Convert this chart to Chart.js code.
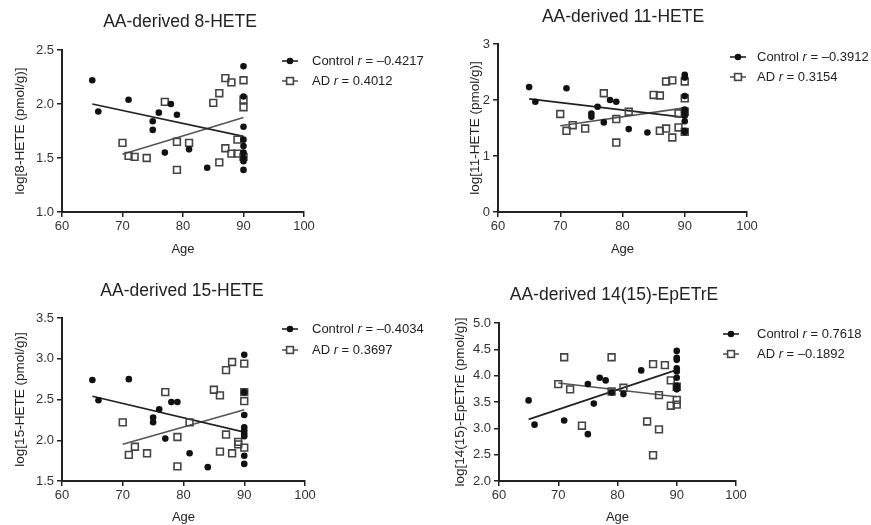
<!DOCTYPE html>
<html>
<head>
<meta charset="utf-8">
<script src="https://cdn.jsdelivr.net/npm/chart.js@4.4.0/dist/chart.umd.min.js"></script>
<style>
  body { margin: 0; background: #fff; width: 871px; height: 525px; position: relative; overflow: hidden; }
  canvas { position: absolute; }
</style>
</head>
<body>
<canvas id="c8" width="435" height="262" style="left:0;top:0"></canvas>
<canvas id="c11" width="436" height="262" style="left:435px;top:0"></canvas>
<canvas id="c15" width="435" height="263" style="left:0;top:262px"></canvas>
<canvas id="c14" width="436" height="263" style="left:435px;top:262px"></canvas>
<script>
// ages (years)
const controlAge = [65, 66, 71, 75, 75, 76, 77, 78, 79, 81, 84, 90, 90, 90, 90, 90, 90, 90, 90, 90];
const adAge = [70, 71, 72, 74, 77, 79, 79, 81, 85, 86, 86, 87, 87, 88, 88, 89, 89, 90, 90, 90, 90];
const ep14ControlAge = [65, 66, 71, 75, 75, 76, 77, 78, 79, 81, 84, 90, 90, 90, 90, 90, 90, 90, 90, 90];
const ep14AdAge = [70, 71, 72, 74, 79, 79, 81, 85, 86, 86, 87, 87, 88, 89, 89, 90, 90, 90];
const fitControlAge = [65, 90];
const fitAdAge = [70, 90];

// log values (pmol/g)
const hete8Control = [2.22, 1.93, 2.04, 1.84, 1.76, 1.92, 1.55, 2.00, 1.90, 1.58, 1.41, 2.35, 2.07, 1.79, 1.67, 1.61, 1.55, 1.50, 1.47, 1.39];
const hete8Ad = [1.64, 1.52, 1.51, 1.50, 2.02, 1.65, 1.39, 1.64, 2.01, 2.10, 1.46, 2.24, 1.59, 2.20, 1.54, 1.67, 1.54, 2.22, 2.04, 1.97, 1.51];
const hete11Control = [2.23, 1.97, 2.21, 1.76, 1.70, 1.88, 1.60, 2.00, 1.97, 1.48, 1.42, 2.45, 2.40, 2.07, 1.83, 1.78, 1.72, 1.62, 1.45, 1.43];
const hete11Ad = [1.75, 1.45, 1.55, 1.49, 2.12, 1.24, 1.66, 1.79, 2.09, 2.08, 1.45, 2.33, 1.49, 2.35, 1.33, 1.76, 1.51, 2.33, 2.03, 1.79, 1.43];
const hete15Control = [2.74, 2.49, 2.75, 2.28, 2.22, 2.38, 2.02, 2.47, 2.47, 1.84, 1.67, 3.05, 2.59, 2.31, 2.16, 2.12, 2.08, 2.05, 1.81, 1.71];
const hete15Ad = [2.22, 1.82, 1.92, 1.84, 2.59, 2.04, 1.68, 2.22, 2.62, 2.55, 1.86, 2.86, 2.07, 2.96, 1.84, 1.98, 1.95, 2.94, 2.59, 2.48, 1.91];
const ep14Control = [3.53, 3.07, 3.15, 2.89, 3.84, 3.47, 3.96, 3.91, 3.68, 3.65, 4.10, 4.47, 4.34, 4.30, 4.14, 4.08, 3.96, 3.81, 3.77, 3.74];
const ep14Ad = [3.84, 4.35, 3.74, 3.05, 4.35, 3.70, 3.77, 3.13, 4.22, 2.49, 2.98, 3.63, 4.20, 3.91, 3.43, 3.79, 3.54, 3.45];

// regression line ends
const hete8Fit = { control: [2.00, 1.70], ad: [1.535, 1.875] };
const hete11Fit = { control: [2.02, 1.69], ad: [1.54, 1.86] };
const hete15Fit = { control: [2.54, 2.10], ad: [1.95, 2.375] };
const ep14Fit = { control: [3.17, 4.11], ad: [3.86, 3.60] };

// r values
const hete8R = ['\u20130.4217', '0.4012'];
const hete11R = ['\u20130.3912', '0.3154'];
const hete15R = ['\u20130.4034', '0.3697'];
const ep14R = ['0.7618', '\u20130.1892'];

// ticks
const ageTicks = [60, 70, 80, 90, 100];
const hete8Ticks = [1.0, 1.5, 2.0, 2.5];
const hete11Ticks = [0, 1, 2, 3];
const hete15Ticks = [1.5, 2.0, 2.5, 3.0, 3.5];
const ep14Ticks = [2.0, 2.5, 3.0, 3.5, 4.0, 4.5, 5.0];

const FONT = '"Liberation Sans", Arial, Helvetica, sans-serif';
const INK = '#222';

function zip(xs, ys) {
  return xs.map((x, i) => ({ x: x, y: ys[i] }));
}

// title + legend (legend needs an italic r, so it is drawn here)
const panelText = {
  id: 'panelText',
  afterDraw(chart, args, o) {
    const ctx = chart.ctx;
    ctx.save();
    ctx.fillStyle = INK;
    ctx.textBaseline = 'middle';
    ctx.textAlign = 'center';
    ctx.font = '17.5px ' + FONT;
    ctx.fillText(o.title, o.titleX, o.titleY);

    ['Control', 'AD'].forEach((name, i) => {
      const y = o.legendY[i];
      const sx = o.symX;
      ctx.lineWidth = 1.6;
      ctx.strokeStyle = i === 0 ? '#222' : '#555';
      ctx.beginPath();
      ctx.moveTo(sx - 8, y);
      ctx.lineTo(sx + 8, y);
      ctx.stroke();
      if (i === 0) {
        ctx.fillStyle = '#111';
        ctx.beginPath();
        ctx.arc(sx, y, 3.3, 0, Math.PI * 2);
        ctx.fill();
      } else {
        ctx.fillStyle = '#fff';
        ctx.fillRect(sx - 3.4, y - 3.4, 6.8, 6.8);
        ctx.strokeStyle = '#444';
        ctx.strokeRect(sx - 3.4, y - 3.4, 6.8, 6.8);
      }
      ctx.fillStyle = INK;
      ctx.textAlign = 'left';
      let x = o.textX;
      ctx.font = '13px ' + FONT;
      ctx.fillText(name + ' ', x, y);
      x += ctx.measureText(name + ' ').width;
      ctx.font = 'italic 13px ' + FONT;
      ctx.fillText('r', x, y);
      x += ctx.measureText('r').width;
      ctx.font = '13px ' + FONT;
      ctx.fillText(' = ' + o.r[i], x, y);
    });
    ctx.restore();
  }
};

function panel(id, p) {
  new Chart(document.getElementById(id), {
    type: 'scatter',
    data: {
      datasets: [
        { data: zip(p.cAge, p.cVal), pointStyle: 'circle', pointRadius: 3.3, backgroundColor: '#111', borderColor: '#111', borderWidth: 0 },
        { data: zip(p.aAge, p.aVal), pointStyle: 'rect', pointRadius: 4.8, backgroundColor: 'rgba(0,0,0,0)', borderColor: '#444', borderWidth: 1.6 },
        { type: 'line', data: zip(fitControlAge, p.fit.control), borderColor: '#222', borderWidth: 1.6, pointRadius: 0, fill: false },
        { type: 'line', data: zip(fitAdAge, p.fit.ad), borderColor: '#555', borderWidth: 1.6, pointRadius: 0, fill: false }
      ]
    },
    options: {
      responsive: false,
      animation: false,
      devicePixelRatio: 1,
      layout: { padding: { left: 0, top: p.top, right: p.right, bottom: 0 } },
      plugins: {
        legend: { display: false },
        tooltip: { enabled: false },
        panelText: p.text
      },
      scales: {
        x: {
          type: 'linear',
          min: 60,
          max: 100,
          afterBuildTicks: s => { s.ticks = ageTicks.map(v => ({ value: v })); },
          afterFit: s => { s.height = p.xH; },
          ticks: { color: '#333', font: { family: FONT, size: 13 }, padding: 2, maxRotation: 0, autoSkip: false },
          grid: { drawOnChartArea: false, tickLength: 5, color: INK, lineWidth: 1.5 },
          border: { color: INK, width: 2 },
          title: { display: true, text: 'Age', color: INK, font: { family: FONT, size: 13 }, padding: { top: 0, bottom: p.agePad } }
        },
        y: {
          min: p.ticks[0],
          max: p.ticks[p.ticks.length - 1],
          afterBuildTicks: s => { s.ticks = p.ticks.map(v => ({ value: v })); },
          afterFit: s => { s.width = p.yW; },
          ticks: { color: '#333', font: { family: FONT, size: 13 }, padding: 3, callback: v => v.toFixed(p.dec) },
          grid: { drawOnChartArea: false, tickLength: 5, color: INK, lineWidth: 1.5 },
          border: { color: INK, width: 2 },
          title: { display: true, text: p.yTitle, color: INK, font: { family: FONT, size: 13.5 }, padding: { top: p.yTitlePad, bottom: 0 } }
        }
      }
    },
    plugins: [panelText]
  });
}

panel('c8', {
  cAge: controlAge, cVal: hete8Control, aAge: adAge, aVal: hete8Ad, fit: hete8Fit,
  ticks: hete8Ticks, dec: 1, yTitle: 'log[8-HETE (pmol/g)]',
  top: 50, right: 131, xH: 50, yW: 62, yTitlePad: 12, agePad: 5,
  text: { title: 'AA-derived 8-HETE', titleX: 180, titleY: 22, symX: 290, textX: 312, legendY: [61, 81], r: hete8R }
});

panel('c11', {
  cAge: controlAge, cVal: hete11Control, aAge: adAge, aVal: hete11Ad, fit: hete11Fit,
  ticks: hete11Ticks, dec: 0, yTitle: 'log[11-HETE (pmol/g)]',
  top: 44, right: 124, xH: 50, yW: 63, yTitlePad: 32, agePad: 5,
  text: { title: 'AA-derived 11-HETE', titleX: 188, titleY: 17, symX: 303, textX: 322, legendY: [57, 77], r: hete11R }
});

panel('c15', {
  cAge: controlAge, cVal: hete15Control, aAge: adAge, aVal: hete15Ad, fit: hete15Fit,
  ticks: hete15Ticks, dec: 1, yTitle: 'log[15-HETE (pmol/g)]',
  top: 56, right: 130, xH: 44, yW: 62, yTitlePad: 12, agePad: 0,
  text: { title: 'AA-derived 15-HETE', titleX: 182, titleY: 29, symX: 290, textX: 312, legendY: [67, 88], r: hete15R }
});

panel('c14', {
  cAge: ep14ControlAge, cVal: ep14Control, aAge: ep14AdAge, aVal: ep14Ad, fit: ep14Fit,
  ticks: ep14Ticks, dec: 1, yTitle: 'log[14(15)-EpETrE (pmol/g)]',
  top: 61, right: 135, xH: 44, yW: 64, yTitlePad: 17, agePad: 0,
  text: { title: 'AA-derived 14(15)-EpETrE', titleX: 179, titleY: 33, symX: 296, textX: 322, legendY: [72, 92], r: ep14R }
});
</script>
</body>
</html>
